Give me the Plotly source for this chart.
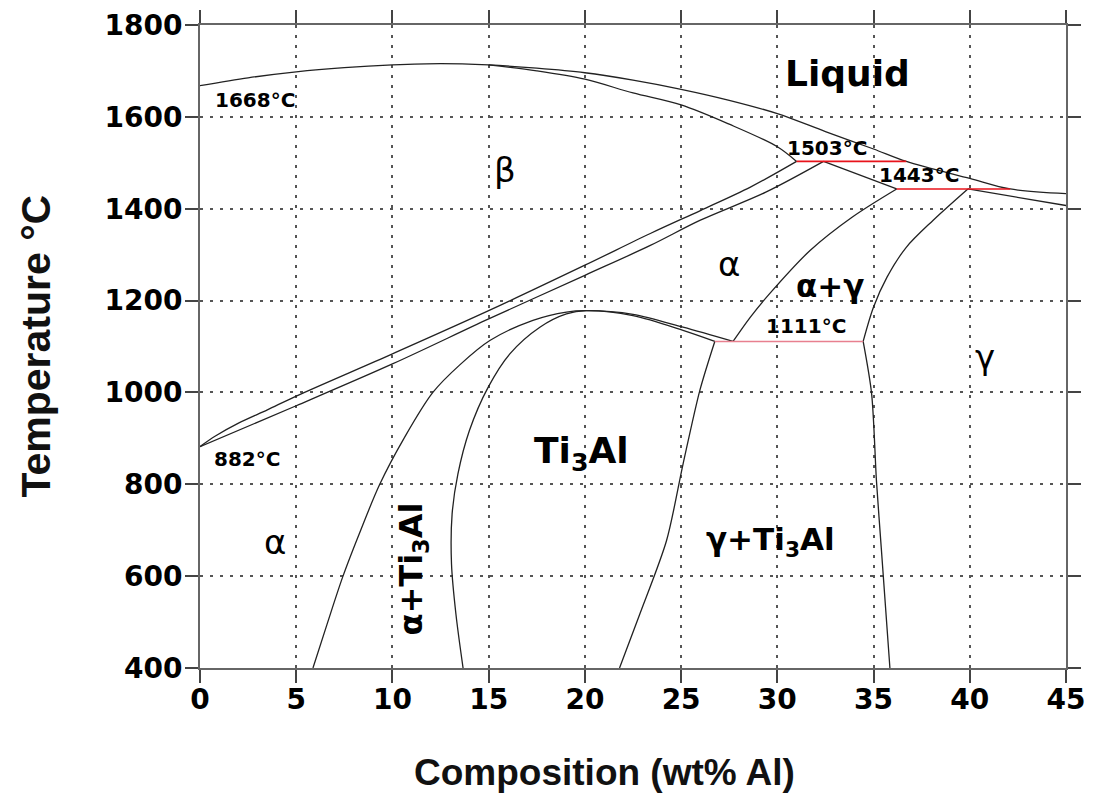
import plotly.graph_objects as go

# ---- phase boundary data (composition wt% Al, temperature °C) ----
liquidus_x = [0, 2.5, 5, 7.5, 10, 12.5, 15, 17.5, 20, 22.5, 25, 27.5, 30, 32.5, 35, 36.7, 40, 42.1, 45]
liquidus_T = [1668, 1685, 1698, 1707, 1713, 1716, 1713, 1706, 1696, 1680, 1660, 1636, 1607, 1568, 1530, 1503, 1466, 1443, 1433]

beta_solidus_x = [15, 17.5, 20, 22.5, 25, 27.5, 30, 31.0]
beta_solidus_T = [1713, 1700, 1682, 1652, 1626, 1584, 1535, 1503]

beta_transus_x = [0, 0.8, 2.0, 3.5, 5, 10, 15, 20, 23.4, 26, 28.6, 31.0]
beta_transus_T = [882, 905, 933, 962, 992, 1084, 1178, 1277, 1346, 1396, 1447, 1503]

alpha_transus_x = [0, 5, 10, 15, 20, 23.4, 26, 29.4, 32.4]
alpha_transus_T = [882, 971, 1062, 1160, 1255, 1320, 1375, 1436, 1503]

alpha_solidus_x = [32.4, 36.2]
alpha_solidus_T = [1503, 1443]

gamma_solidus_x = [39.9, 45]
gamma_solidus_T = [1443, 1407]

alpha_ag_x = [36.2, 33.9, 31.7, 29.6, 28.6, 27.7]
alpha_ag_T = [1443, 1382, 1309, 1215, 1164, 1111]

gamma_ag_x = [39.9, 38.1, 36.7, 35.7, 35.0, 34.46]
gamma_ag_T = [1443, 1375, 1316, 1251, 1186, 1111]

gamma_gt_x = [34.46, 34.9, 35.15, 35.4, 35.85]
gamma_gt_T = [1111, 997, 808, 662, 400]

ti3al_gt_x = [26.75, 25.97, 25.1, 24.24, 22.85, 21.8]
ti3al_gt_T = [1111, 1004, 844, 677, 517, 400]

alpha_at_x = [5.87, 6.6, 7.43, 8.35, 9.34, 10.6, 12.1, 13.5, 15.06, 17.3, 19.04, 20.08, 22.5, 25.1, 27.7]
alpha_at_T = [400, 495, 600, 700, 800, 900, 1000, 1060, 1113, 1157, 1175, 1178, 1170, 1142, 1111]

ti3al_at_x = [13.67, 13.3, 13.07, 13.1, 13.4, 14.0, 14.97, 16.1, 17.66, 19.04, 20.08, 22.5, 25.1, 26.75]
ti3al_at_T = [400, 517, 626, 735, 822, 917, 1011, 1084, 1142, 1171, 1178, 1167, 1135, 1111]

# invariant reactions
invariant_T = [1503, 1443, 1111]
invariant_x0 = [31.0, 36.2, 26.75]
invariant_x1 = [36.7, 42.1, 34.46]

# labels
region_labels = ["Liquid", "β", "α", "α+γ", "γ", "Ti<sub>3</sub>Al", "γ+Ti<sub>3</sub>Al", "α"]
region_x = [33.67, 15.83, 27.5, 32.73, 40.78, 19.82, 29.65, 3.88]
region_T = [1695, 1485, 1280, 1231, 1077, 866, 675, 675]
region_size = [36, 34, 34, 31, 34, 36, 31, 34]
region_bold = [True, False, False, True, False, True, True, False]

temp_labels = ["1668°C", "882°C", "1503°C", "1443°C", "1111°C"]
temp_x = [2.84, 2.44, 32.56, 37.35, 31.47]
temp_T = [1636, 855, 1532, 1473, 1144]

x_ticks = [0, 5, 10, 15, 20, 25, 30, 35, 40, 45]
y_ticks = [400, 600, 800, 1000, 1200, 1400, 1600, 1800]

fig = go.Figure()

curves = [
    (liquidus_x, liquidus_T), (beta_solidus_x, beta_solidus_T),
    (beta_transus_x, beta_transus_T), (alpha_transus_x, alpha_transus_T),
    (alpha_ag_x, alpha_ag_T), (gamma_ag_x, gamma_ag_T),
    (alpha_at_x, alpha_at_T), (ti3al_at_x, ti3al_at_T),
]
for cx, cy in curves:
    fig.add_trace(go.Scatter(x=cx, y=cy, mode="lines",
                             line=dict(color="#222", width=1.3, shape="spline", smoothing=0.9),
                             hoverinfo="skip", showlegend=False))
straight = [
    (alpha_solidus_x, alpha_solidus_T), (gamma_solidus_x, gamma_solidus_T),
    (gamma_gt_x, gamma_gt_T), (ti3al_gt_x, ti3al_gt_T),
]
for cx, cy in straight:
    fig.add_trace(go.Scatter(x=cx, y=cy, mode="lines",
                             line=dict(color="#222", width=1.3, shape="spline", smoothing=0.8),
                             hoverinfo="skip", showlegend=False))

red_colors = ["#e8131b", "#e8131b", "#e8808f"]
for T, x0, x1, c in zip(invariant_T, invariant_x0, invariant_x1, red_colors):
    fig.add_trace(go.Scatter(x=[x0, x1], y=[T, T], mode="lines",
                             line=dict(color=c, width=1.6),
                             hoverinfo="skip", showlegend=False))

for lab, lx, ly, s, b in zip(region_labels, region_x, region_T, region_size, region_bold):
    fig.add_annotation(x=lx, y=ly, text=lab, showarrow=False,
                       font=dict(family="DejaVu Sans", size=s, color="black",
                                 weight="bold" if b else "normal"))

fig.add_annotation(x=11.08, y=615, text="α+Ti<sub>3</sub>Al", textangle=-90, showarrow=False,
                   font=dict(family="DejaVu Sans", size=32, color="black", weight="bold"))

for lab, lx, ly in zip(temp_labels, temp_x, temp_T):
    fig.add_annotation(x=lx, y=ly, text=lab, showarrow=False,
                       font=dict(family="DejaVu Sans", size=20, color="black", weight="bold"))

fig.add_annotation(xref="paper", yref="paper", x=0.467, y=-0.163, xanchor="center", yanchor="middle",
                   text="Composition (wt% Al)", showarrow=False,
                   font=dict(family="Liberation Sans", size=37, color="#111", weight="bold"))
fig.add_annotation(xref="paper", yref="paper", x=-0.1905, y=0.5, xanchor="center", yanchor="middle",
                   text="Temperature °C", textangle=-90, showarrow=False,
                   font=dict(family="Liberation Sans", size=41, color="#111", weight="bold"))

axis_common = dict(showline=True, linecolor="#666", linewidth=2, mirror="allticks",
                   ticks="outside", ticklen=13, tickcolor="#444", tickwidth=2,
                   showgrid=True, gridcolor="#555", gridwidth=1.5, griddash="3px,7px",
                   zeroline=False, automargin=False,
                   tickfont=dict(family="DejaVu Sans", size=28, color="black", weight="bold"))

fig.update_xaxes(range=[0, 45], tickvals=x_ticks, ticktext=[str(v) for v in x_ticks],
                 ticklabelstandoff=-8, **axis_common)
fig.update_yaxes(range=[400, 1800], tickvals=y_ticks, ticktext=[str(v) for v in y_ticks],
                 ticklabelstandoff=-3, **axis_common)

# page body has an 8px default margin, so the figure is 8px smaller each way
fig.update_layout(width=1093, height=786, margin=dict(l=192, r=35, t=17, b=126),
                  plot_bgcolor="white", paper_bgcolor="white", showlegend=False)

fig.write_html("out.html")
